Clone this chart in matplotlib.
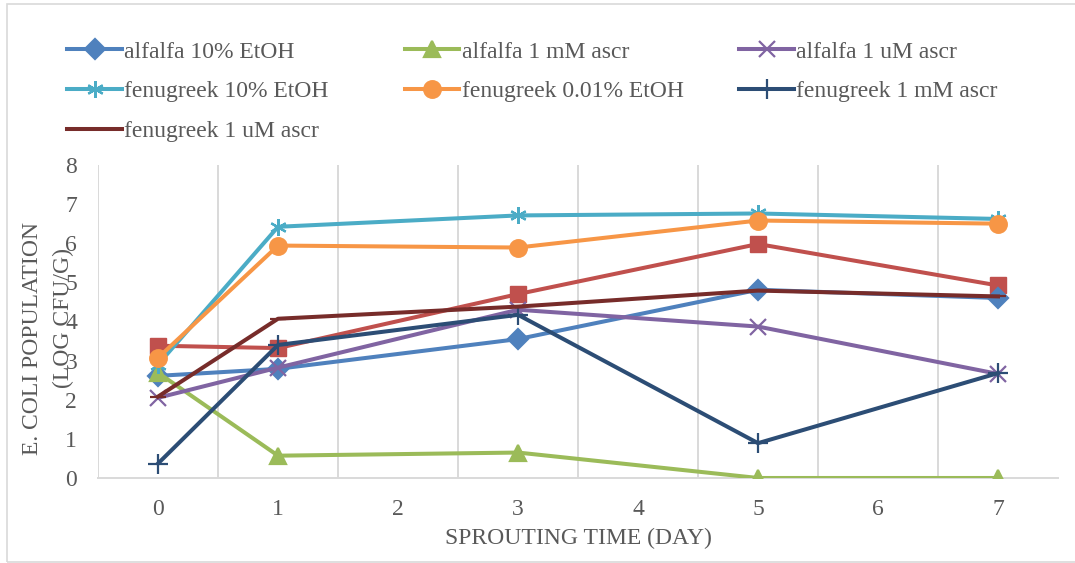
import matplotlib
matplotlib.use("Agg")
import matplotlib.pyplot as plt
from matplotlib.patches import Rectangle

plt.rcParams["font.family"] = ["Liberation Serif", "DejaVu Serif"]

# sprouting days and log CFU/g readings
days = [0, 1, 3, 5, 7]
alfalfa_etoh10 = [2.61, 2.79, 3.55, 4.81, 4.60]
alfalfa_1mm = [2.69, 0.57, 0.65, 0.0, 0.0]
alfalfa_1um = [2.05, 2.82, 4.30, 3.87, 2.66]
fenugreek_etoh10 = [2.90, 6.42, 6.71, 6.76, 6.62]
fenugreek_etoh001 = [3.07, 5.94, 5.89, 6.58, 6.50]
fenugreek_1mm = [0.37, 3.40, 4.17, 0.89, 2.68]
fenugreek_1um = [2.08, 4.07, 4.38, 4.79, 4.64]
alfalfa_etoh001 = [3.38, 3.32, 4.70, 5.98, 4.92]

series = [
    ("alfalfa 10% EtOH", alfalfa_etoh10, "#4F81BD", "D", 10),
    ("alfalfa 1 mM ascr", alfalfa_1mm, "#9BBB59", "^", 12),
    ("alfalfa 1 uM ascr", alfalfa_1um, "#8064A2", "x", 11),
    ("fenugreek 10% EtOH", fenugreek_etoh10, "#4BACC6", "*", 12),
    ("fenugreek 0.01% EtOH", fenugreek_etoh001, "#F79646", "o", 12),
    ("fenugreek 1 mM ascr", fenugreek_1mm, "#2C4D75", "+", 14),
    ("fenugreek 1 uM ascr", fenugreek_1um, "#772C2A", "_", 12),
]

FS = 17
GREY = "#595959"

fig = plt.figure(figsize=(10.75, 5.63), dpi=100)
ax = fig.add_axes([0.0912, 0.151, 0.893, 0.556])

# square-marker series drawn without a legend entry
ax.plot(days, alfalfa_etoh001, color="#C0504D", lw=2.9, marker="s",
        ms=11, zorder=3, label="_nolegend_")

handles = []
for name, vals, col, mk, ms in series:
    if mk == "*":
        mk = (6, 2, 0)
    h, = ax.plot(days, vals, color=col, lw=2.9, marker=mk, ms=ms,
                 mew=1.6, mec=col, zorder=3, label=name)
    handles.append(h)

ax.set_xlim(-0.5, 7.5)
ax.set_ylim(0, 8)
ax.set_xticks(range(8))
ax.set_yticks(range(9))
ax.tick_params(length=0, labelsize=FS, labelcolor=GREY)
ax.tick_params(axis="y", pad=15)
ax.tick_params(axis="x", pad=15)

for xb in [k + 0.5 for k in range(-1, 7)]:
    ax.axvline(xb, color="#D9D9D9", lw=1.4, zorder=1)
for s in ["top", "right", "left"]:
    ax.spines[s].set_visible(False)
ax.spines["bottom"].set_color("#D9D9D9")
ax.spines["bottom"].set_linewidth(1.4)

ax.set_xlabel("SPROUTING TIME (DAY)", fontsize=FS, color=GREY, labelpad=6)
fig.text(0.030, 0.398, "E. COLI POPULATION", rotation=90, fontsize=FS,
         color=GREY, ha="center", va="center")
fig.text(0.059, 0.435, "(LOG CFU/G)", rotation=90, fontsize=FS,
         color=GREY, ha="center", va="center")

# legend laid out row by row, one legend per column
col_x = [0.054, 0.368, 0.679]
for c in range(3):
    fig.legend(handles=handles[c::3], loc="upper left",
               bbox_to_anchor=(col_x[c], 0.944), frameon=False, fontsize=FS,
               labelcolor=GREY, handlelength=2.3, handletextpad=0.1,
               labelspacing=0.78, borderaxespad=0)

# chart-area frame, open on the right edge
fig.add_artist(Rectangle((0.0065, 0.002), 1.0, 0.991, transform=fig.transFigure,
                         fill=False, ec="#D9D9D9", lw=1.2))

fig.savefig("out.png", dpi=100)
